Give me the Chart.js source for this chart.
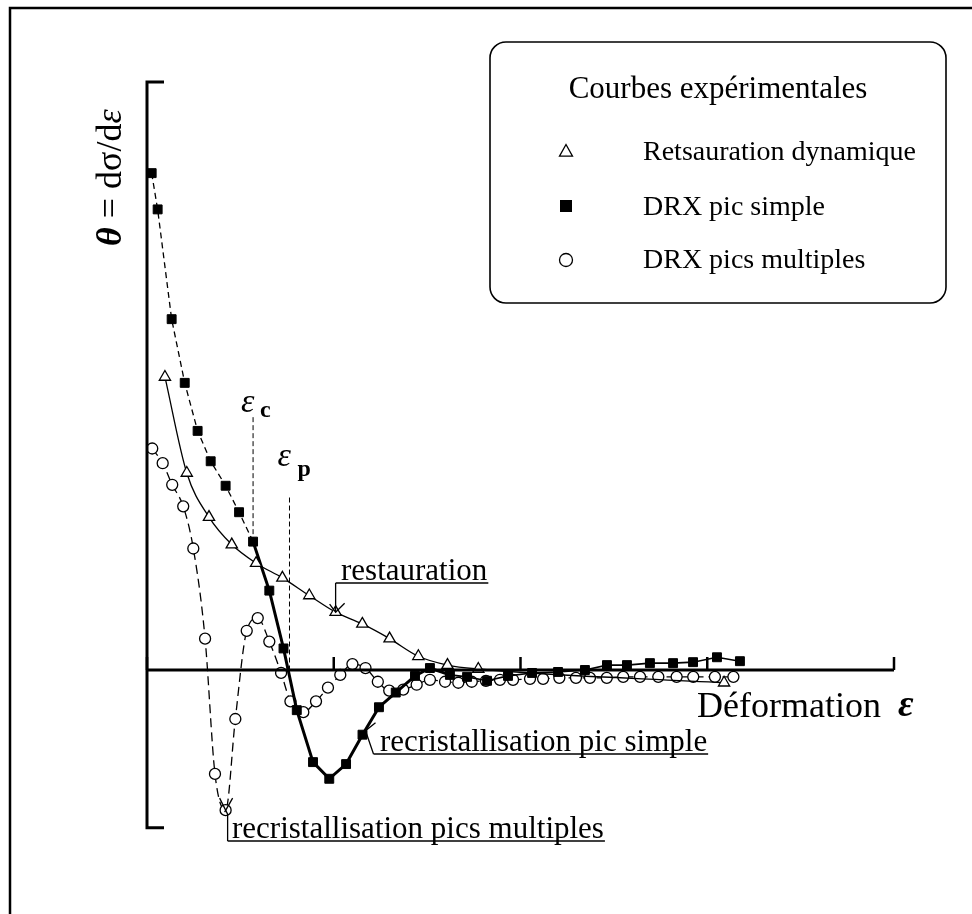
<!DOCTYPE html>
<html>
<head>
<meta charset="utf-8">
<script src="https://cdn.jsdelivr.net/npm/chart.js@4.4.1/dist/chart.umd.min.js"></script>
<style>
  html, body { margin: 0; padding: 0; background: #fff; }
  canvas { display: block; }
</style>
</head>
<body>
<canvas id="thetaChart" width="972" height="914"></canvas>
<script>
// Strain (x) vs hardening rate theta = dsigma/deps (y)
// Restauration dynamique (open triangles)
const restX = [0.096, 0.213, 0.332, 0.454, 0.584, 0.725, 0.869, 1.010, 1.153, 1.299, 1.453, 1.609, 1.774, 3.090];
const restY = [2.99, 2.01, 1.56, 1.28, 1.09, 0.94, 0.76, 0.59, 0.47, 0.32, 0.14, 0.05, 0.01, -0.13];

// DRX pic simple (filled squares)
const simpleX = [0.025, 0.057, 0.132, 0.202, 0.271, 0.341, 0.421, 0.493, 0.568, 0.655,
                 0.731, 0.802, 0.889, 0.976, 1.066, 1.154, 1.242, 1.332, 1.435, 1.515,
                 1.622, 1.714, 1.821, 1.933, 2.062, 2.201, 2.345, 2.463, 2.570, 2.693,
                 2.817, 2.924, 3.052, 3.175];
const simpleY = [5.07, 4.70, 3.58, 2.93, 2.44, 2.13, 1.88, 1.61, 1.31, 0.81,
                 0.22, -0.41, -0.94, -1.11, -0.96, -0.66, -0.38, -0.23, -0.06, 0.02,
                 -0.05, -0.07, -0.11, -0.06, -0.03, -0.02, 0.00, 0.05, 0.05, 0.07,
                 0.07, 0.08, 0.13, 0.09];

// DRX pics multiples (open circles)
const multiX = [0.028, 0.084, 0.135, 0.194, 0.248, 0.311, 0.364, 0.421, 0.473, 0.534,
                0.593, 0.655, 0.718, 0.768, 0.837, 0.905, 0.969, 1.035, 1.100, 1.170,
                1.236, 1.297, 1.372, 1.444, 1.515, 1.596, 1.667, 1.739, 1.815, 1.890,
                1.960, 2.051, 2.121, 2.208, 2.297, 2.372, 2.462, 2.550, 2.640, 2.738,
                2.836, 2.925, 3.041, 3.140];
const multiY = [2.26, 2.11, 1.89, 1.67, 1.24, 0.32, -1.06, -1.43, -0.50, 0.40,
                0.53, 0.29, -0.03, -0.32, -0.43, -0.32, -0.18, -0.05, 0.06, 0.02,
                -0.12, -0.21, -0.20, -0.15, -0.10, -0.12, -0.13, -0.12, -0.11, -0.10,
                -0.10, -0.09, -0.09, -0.08, -0.08, -0.08, -0.08, -0.07, -0.07, -0.07,
                -0.07, -0.07, -0.07, -0.07];

// critical strain and peak strain
const epsC = 0.568;
const epsP = 0.763;
const xTicks = [0, 1, 2, 3, 4];

const serif = '"Liberation Serif", "DejaVu Serif", serif';

function pts(xs, ys) {
  return xs.map((x, i) => ({ x: x, y: ys[i] }));
}

function marker(ctx, style, cx, cy, r) {
  ctx.save();
  ctx.lineWidth = 1.3;
  ctx.strokeStyle = '#000';
  ctx.beginPath();
  if (style === 'triangle') {
    ctx.moveTo(cx, cy - r);
    ctx.lineTo(cx + r, cy + r * 0.8);
    ctx.lineTo(cx - r, cy + r * 0.8);
    ctx.closePath();
    ctx.fillStyle = '#fff';
    ctx.fill();
    ctx.stroke();
  } else if (style === 'rect') {
    ctx.fillStyle = '#000';
    ctx.fillRect(cx - r, cy - r, 2 * r, 2 * r);
  } else {
    ctx.arc(cx, cy, r, 0, Math.PI * 2);
    ctx.fillStyle = '#fff';
    ctx.fill();
    ctx.stroke();
  }
  ctx.restore();
}

function line(ctx, coords, width, dash) {
  ctx.save();
  ctx.lineWidth = width;
  ctx.setLineDash(dash || []);
  ctx.beginPath();
  ctx.moveTo(coords[0], coords[1]);
  for (let i = 2; i < coords.length; i += 2) ctx.lineTo(coords[i], coords[i + 1]);
  ctx.stroke();
  ctx.restore();
}

function underlined(ctx, text, x, base, size, lineStart) {
  ctx.font = size + 'px ' + serif;
  ctx.textAlign = 'left';
  ctx.textBaseline = 'alphabetic';
  ctx.fillText(text, x, base);
  const w = ctx.measureText(text).width;
  line(ctx, [lineStart, base + 3, x + w + 1, base + 3], 1.6);
}

// axes, annotations and legend box, drawn in pixel space via the chart scales
const extras = {
  id: 'extras',
  beforeDraw(chart) {
    const ctx = chart.ctx;
    ctx.save();
    ctx.fillStyle = '#fff';
    ctx.fillRect(0, 0, chart.width, chart.height);
    ctx.restore();
  },
  afterDatasetsDraw(chart) {
    const ctx = chart.ctx;
    const sx = chart.scales.x, sy = chart.scales.y;
    const X = v => sx.getPixelForValue(v);
    const Y = v => sy.getPixelForValue(v);
    ctx.save();
    ctx.strokeStyle = '#000';
    ctx.fillStyle = '#000';

    // outer frame (left and top)
    line(ctx, [10, 914, 10, 8, 972, 8], 2.5);

    // y axis with bracket ends
    const yTop = Y(6), yBot = Y(-1.61);
    line(ctx, [X(0) + 17, yTop, X(0), yTop, X(0), yBot, X(0) + 17, yBot], 3);
    // x axis at theta = 0
    line(ctx, [X(0), Y(0), X(4), Y(0)], 3);
    xTicks.forEach(t => line(ctx, [X(t), Y(0), X(t), Y(0) - 13], 2.5));

    // eps_c and eps_p markers
    line(ctx, [X(epsC), Y(2.58), X(epsC), Y(1.31)], 1, [5, 3]);
    line(ctx, [X(epsP), Y(1.76), X(epsP), Y(0)], 1, [5, 3]);
    ctx.font = 'italic 34px ' + serif;
    ctx.fillText('\u03b5', X(epsC) - 12, Y(2.58) - 5);
    ctx.font = 'bold 24px ' + serif;
    ctx.fillText('c', X(epsC) + 7, Y(2.58) + 0);
    ctx.font = 'italic 34px ' + serif;
    ctx.fillText('\u03b5', X(epsP) - 12, Y(1.76) - 32);
    ctx.font = 'bold 24px ' + serif;
    ctx.fillText('p', X(epsP) + 8, Y(1.76) - 22);

    // restauration label
    const tr = { x: X(restX[7]), y: Y(restY[7]) };
    underlined(ctx, 'restauration', 341, 580, 31, tr.x);
    line(ctx, [tr.x, 583, tr.x, tr.y], 1.3);
    line(ctx, [tr.x - 6, tr.y - 8, tr.x, tr.y, tr.x + 9, tr.y - 9], 1.3);

    // recristallisation pic simple label
    const sq = { x: X(simpleX[15]), y: Y(simpleY[15]) };
    underlined(ctx, 'recristallisation pic simple', 380, 751, 31, sq.x + 11);
    line(ctx, [sq.x + 13, sq.y - 12, sq.x + 3, sq.y - 4, sq.x + 11, 754], 1.3);

    // recristallisation pics multiples label
    const ci = { x: X(multiX[7]), y: Y(multiY[7]) };
    underlined(ctx, 'recristallisation pics multiples', 232, 838, 31, ci.x + 2);
    line(ctx, [ci.x - 6, ci.y - 12, ci.x + 2, ci.y + 4, ci.x + 2, 841], 1.3);
    line(ctx, [ci.x + 7, ci.y - 12, ci.x - 1, ci.y + 2], 1.3);

    // axis titles
    ctx.font = '36px ' + serif;
    ctx.fillText('D\u00e9formation', 697, 717);
    ctx.font = 'bold italic 38px ' + serif;
    ctx.fillText('\u03b5', 898, 716);

    ctx.save();
    ctx.translate(121, 246);
    ctx.rotate(-Math.PI / 2);
    ctx.font = 'bold italic 36px ' + serif;
    ctx.fillText('\u03b8', 0, 0);
    let w = ctx.measureText('\u03b8').width;
    ctx.font = '36px ' + serif;
    ctx.fillText(' = d\u03c3/d', w, 0);
    w += ctx.measureText(' = d\u03c3/d').width;
    ctx.font = 'italic 36px ' + serif;
    ctx.fillText('\u03b5', w, 0);
    ctx.restore();

    // legend box
    ctx.save();
    ctx.lineWidth = 1.6;
    ctx.beginPath();
    ctx.roundRect(490, 42, 456, 261, 16);
    ctx.stroke();
    ctx.restore();
    ctx.font = '31px ' + serif;
    ctx.textAlign = 'center';
    ctx.fillText('Courbes exp\u00e9rimentales', 718, 98);
    ctx.textAlign = 'left';
    const rows = [151, 206, 260];
    const bases = [160, 215, 268];
    chart.data.datasets.forEach((ds, i) => {
      marker(ctx, ds.pointStyle, 566, rows[i], ds.pointStyle === 'rect' ? 6 : 6.5);
      ctx.font = '28px ' + serif;
      ctx.fillStyle = '#000';
      ctx.fillText(ds.label, 643, bases[i]);
    });

    ctx.restore();
  }
};

new Chart(document.getElementById('thetaChart'), {
  type: 'scatter',
  data: {
    datasets: [
      {
        label: 'Retsauration dynamique',
        data: pts(restX, restY),
        showLine: true,
        borderColor: '#000',
        borderWidth: 1.3,
        cubicInterpolationMode: 'monotone',
        pointStyle: 'triangle',
        pointRadius: 6.5,
        pointBackgroundColor: '#fff',
        pointBorderColor: '#000',
        pointBorderWidth: 1.3,
        clip: false,
      },
      {
        label: 'DRX pic simple',
        data: pts(simpleX, simpleY),
        showLine: true,
        borderColor: '#000',
        borderWidth: 1.3,
        tension: 0,
        segment: {
          borderDash: ctx => ctx.p0DataIndex < 8 ? [6, 4] : [],
          borderWidth: ctx => ctx.p0DataIndex < 8 ? 1.3 : (ctx.p0DataIndex < 20 ? 3 : 1.6),
        },
        pointStyle: 'rect',
        pointRadius: 6.3,
        pointBackgroundColor: '#000',
        pointBorderColor: '#000',
        pointBorderWidth: 1,
        clip: false,
      },
      {
        label: 'DRX pics multiples',
        data: pts(multiX, multiY),
        showLine: true,
        borderColor: '#000',
        borderWidth: 1.3,
        borderDash: [9, 5],
        cubicInterpolationMode: 'monotone',
        pointStyle: 'circle',
        pointRadius: 5.5,
        pointBackgroundColor: '#fff',
        pointBorderColor: '#000',
        pointBorderWidth: 1.3,
        clip: false,
      },
    ],
  },
  options: {
    responsive: false,
    animation: false,
    devicePixelRatio: 1,
    layout: {
      padding: { left: 147, right: 78, top: 82, bottom: 48 },
    },
    scales: {
      x: { type: 'linear', min: 0, max: 4, display: false },
      y: { type: 'linear', min: -2, max: 6, display: false },
    },
    plugins: {
      legend: { display: false },
      tooltip: { enabled: false },
    },
  },
  plugins: [extras],
});
</script>
</body>
</html>
